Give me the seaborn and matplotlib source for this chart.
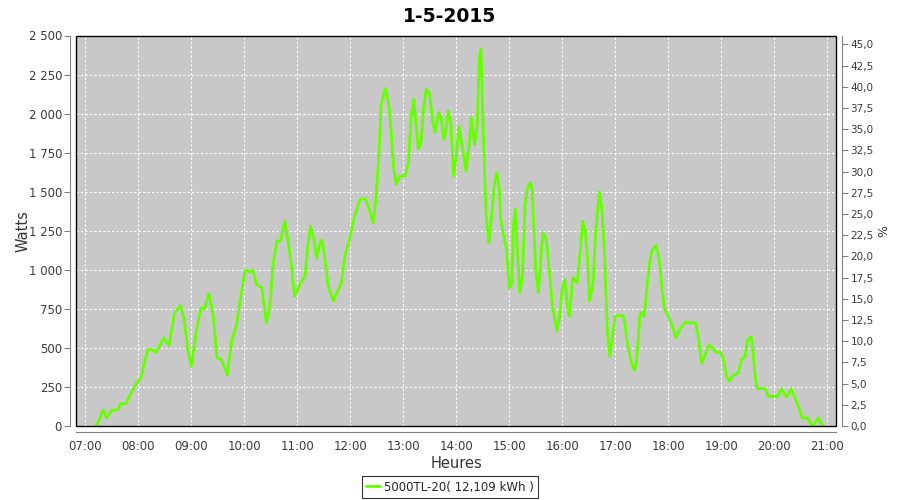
import pandas as pd
import seaborn as sns
import matplotlib.pyplot as plt
from matplotlib.ticker import FuncFormatter, MultipleLocator
from matplotlib.patches import Rectangle

# production of the inverter
heures = ['07:12', '07:16', '07:20', '07:24', '07:30', '07:37', '07:40', '07:46', '07:52', '07:57',
          '08:03', '08:07', '08:11', '08:16', '08:20', '08:29', '08:35', '08:41', '08:48', '08:52',
          '08:56', '09:00', '09:06', '09:11', '09:15', '09:20', '09:25', '09:29', '09:34', '09:41',
          '09:46', '09:51', '09:55', '10:01', '10:06', '10:10', '10:14', '10:20', '10:25', '10:29',
          '10:33', '10:37', '10:41', '10:46', '10:50', '10:54', '10:57', '11:03', '11:09', '11:12',
          '11:15', '11:19', '11:22', '11:25', '11:28', '11:31', '11:35', '11:41', '11:45', '11:50',
          '11:54', '12:00', '12:05', '12:11', '12:17', '12:21', '12:26', '12:29', '12:32', '12:35',
          '12:40', '12:44', '12:47', '12:49', '12:52', '12:56', '13:02', '13:06', '13:09', '13:12',
          '13:14', '13:17', '13:20', '13:23', '13:26', '13:30', '13:33', '13:36', '13:40', '13:43',
          '13:46', '13:48', '13:51', '13:54', '13:56', '13:57', '14:00', '14:03', '14:08', '14:11',
          '14:15', '14:17', '14:21', '14:24', '14:26', '14:28', '14:30', '14:32', '14:34', '14:37',
          '14:40', '14:43', '14:46', '14:49', '14:50', '14:53', '14:57', '15:00', '15:03', '15:05',
          '15:07', '15:09', '15:12', '15:15', '15:18', '15:20', '15:24', '15:26', '15:28', '15:30',
          '15:33', '15:35', '15:38', '15:42', '15:46', '15:49', '15:54', '15:57', '16:00', '16:03',
          '16:06', '16:08', '16:12', '16:17', '16:21', '16:23', '16:26', '16:29', '16:31', '16:35',
          '16:38', '16:42', '16:45', '16:48', '16:51', '16:54', '16:57', '17:00', '17:05', '17:09',
          '17:11', '17:13', '17:16', '17:19', '17:22', '17:24', '17:26', '17:28', '17:30', '17:33',
          '17:36', '17:39', '17:42', '17:46', '17:50', '17:53', '17:56', '18:02', '18:06', '18:09',
          '18:13', '18:19', '18:25', '18:31', '18:34', '18:38', '18:42', '18:46', '18:50', '18:54',
          '18:59', '19:02', '19:06', '19:09', '19:14', '19:19', '19:23', '19:27', '19:30', '19:34',
          '19:36', '19:38', '19:40', '19:42', '19:50', '19:53', '20:04', '20:08', '20:14', '20:19',
          '20:23', '20:27', '20:32', '20:38', '20:42', '20:45', '20:50', '20:54', '20:55']
watts = [0, 40, 105, 51, 100, 103, 143, 144, 211, 265,
         308, 404, 489, 489, 470, 564, 515, 724, 771, 681,
         489, 380, 617, 756, 750, 846, 703, 436, 425, 329,
         553, 638, 788, 997, 985, 997, 906, 885, 660, 767,
         1045, 1183, 1183, 1312, 1173, 1002, 831, 906, 965, 1151,
         1280, 1194, 1071, 1156, 1190, 1087, 895, 799, 853, 917,
         1087, 1215, 1344, 1451, 1455, 1397, 1301, 1451, 1686, 2060,
         2160, 2049, 1835, 1664, 1547, 1600, 1600, 1686, 1985, 2092,
         1964, 1771, 1803, 2028, 2156, 2124, 1964, 1878, 2006, 1974,
         1835, 1878, 2017, 1942, 1707, 1600, 1728, 1920, 1750, 1632,
         1814, 1974, 1803, 1942, 2348, 2412, 2006, 1643, 1344, 1173,
         1344, 1536, 1622, 1515, 1344, 1237, 1130, 885, 906, 1301,
         1387, 1151, 853, 959, 1408, 1515, 1558, 1515, 1258, 1002,
         853, 1002, 1237, 1194, 959, 767, 606, 703, 874, 938,
         767, 703, 949, 917, 1151, 1312, 1258, 1045, 799, 917,
         1258, 1497, 1387, 1087, 617, 446, 574, 703, 709, 705,
         660, 553, 468, 393, 356, 404, 553, 713, 728, 703,
         895, 1045, 1130, 1156, 1066, 874, 746, 681, 617, 564,
         617, 664, 660, 660, 574, 400, 457, 521, 500, 472,
         472, 436, 318, 286, 329, 335, 425, 446, 553, 570,
         489, 340, 254, 239, 239, 190, 190, 237, 186, 237,
         190, 126, 51, 51, 8, 8, 51, 8, 0]

titre = '1-5-2015'
serie = '5000TL-20( 12,109 kWh )'
puissance_crete = 5430  # W, gives the % scale on the right
heures_ticks = list(range(7, 22))

df = pd.DataFrame({'heure': [int(h[:2]) + int(h[3:]) / 60 for h in heures], 'watts': watts})

sns.set_style('white')
plt.rcParams['font.family'] = ['DejaVu Sans']

fig = plt.figure(figsize=(9, 5), dpi=100)
ax = fig.add_axes([0.0844, 0.148, 0.845, 0.781])
ax.set_facecolor('#c8c8c8')

sns.lineplot(data=df, x='heure', y='watts', ax=ax, color='#66ff00', linewidth=2, label=serie, legend=False)

ax.set_xlim(6.825, 21.175)
ax.set_ylim(0, 2500)
ax.set_xticks(heures_ticks)
ax.set_xticklabels([f'{h:02d}:00' for h in heures_ticks])
ax.yaxis.set_major_locator(MultipleLocator(250))
ax.yaxis.set_major_formatter(FuncFormatter(lambda v, p: f'{int(v):,}'.replace(',', ' ')))
ax.grid(True, color='white', linestyle=(0, (2, 2)), linewidth=0.8)

gris = '#808080'
for s in ['top', 'right']:
    ax.spines[s].set_visible(False)
for s in ['left', 'bottom']:
    ax.spines[s].set_position(('outward', 4))
    ax.spines[s].set_color(gris)
ax.tick_params(axis='both', direction='out', length=4, width=0.8, color=gris, labelsize=8.5,
               labelcolor='#3a3a3a', pad=2)
ax.add_patch(Rectangle((0, 0), 1, 1, transform=ax.transAxes, fill=False, edgecolor='black',
                       linewidth=1, clip_on=False, zorder=5))

ax.set_xlabel('Heures', fontsize=10.5, color='#333333', labelpad=2)
ax.set_ylabel('Watts', fontsize=10.5, color='#333333', labelpad=0)
ax.yaxis.set_label_coords(-0.06, 0.5)

ax2 = ax.twinx()
ax2.set_ylim(0, 2500 / puissance_crete * 100)
ax2.yaxis.set_major_locator(MultipleLocator(2.5))
ax2.yaxis.set_major_formatter(FuncFormatter(lambda v, p: f'{v:.1f}'.replace('.', ',')))
for s in ['top', 'left', 'bottom']:
    ax2.spines[s].set_visible(False)
ax2.spines['right'].set_position(('outward', 4))
ax2.spines['right'].set_color(gris)
ax2.tick_params(axis='y', direction='out', length=4, width=0.8, color=gris, labelsize=7.5,
                labelcolor='#3a3a3a', pad=2)
ax2.set_ylabel('%', fontsize=9, color='#333333', labelpad=0)
ax2.yaxis.set_label_coords(1.053, 0.5)

fig.suptitle(titre, fontsize=13.5, fontweight='bold', color='black', y=0.985, x=0.5)

h, l = ax.get_legend_handles_labels()
leg = fig.legend(h, l, loc='lower center', bbox_to_anchor=(0.5, 0.0), fontsize=8.5, frameon=True,
                 fancybox=False, edgecolor='black', handlelength=1.2, borderpad=0.35,
                 handletextpad=0.3, borderaxespad=0.2)
leg.get_frame().set_linewidth(0.8)

fig.savefig('out.png', dpi=100, facecolor='white')
